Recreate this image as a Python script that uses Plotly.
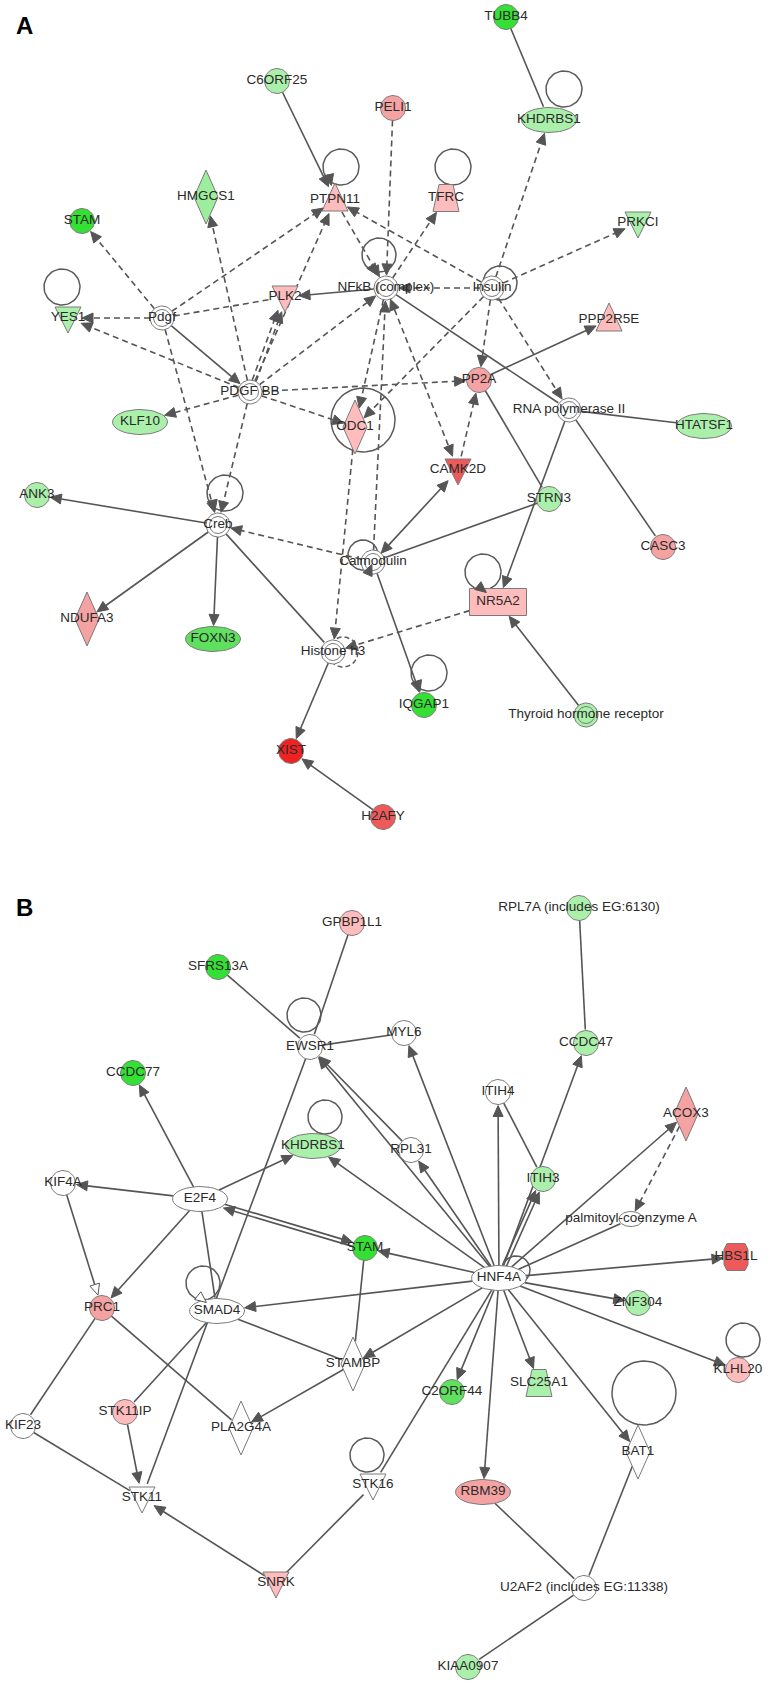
import math
from collections import Counter
import plotly.graph_objects as go

# ---------------- panel A: nodes ----------------
a_names = ["C6ORF25", "PELI1", "TUBB4", "KHDRBS1", "HMGCS1", "PTPN11", "TFRC", "STAM",
           "PRKCI", "YES1", "Pdgf", "PLK2", "NFkB (complex)", "Insulin", "PPP2R5E", "PDGF BB",
           "PP2A", "RNA polymerase II", "HTATSF1", "KLF10", "ODC1", "CAMK2D", "ANK3", "STRN3",
           "Creb", "CASC3", "Calmodulin", "NR5A2", "NDUFA3", "FOXN3", "Histone h3", "IQGAP1",
           "Thyroid hormone receptor", "XIST", "H2AFY"]
a_x = [277, 393, 506, 549, 206, 335, 446, 82,
       638, 68, 162, 285, 386, 492, 609, 250,
       479, 569, 704, 140, 355, 458, 37, 549,
       218, 663, 373, 498, 87, 213, 333, 424,
       586, 291, 383]
a_y = [81, 108, 17, 120, 197, 200, 198, 221,
       223, 318, 318, 297, 288, 288, 320, 392,
       380, 410, 426, 422, 427, 470, 495, 499,
       525, 547, 562, 602, 619, 639, 652, 705,
       715, 751, 817]
a_shape = ["circle", "circle", "circle", "ellipse", "diamond", "tri_up", "trap", "circle",
           "tri_down", "tri_down", "complex", "tri_down", "complex", "complex", "tri_up", "complex",
           "circle", "complex", "ellipse", "ellipse", "diamond", "tri_down", "circle", "circle",
           "complex", "circle", "complex", "rect", "diamond", "ellipse", "complex", "circle",
           "complex", "circle", "circle"]
a_colour = ["lg", "pk2", "g1", "lg", "hm", "pk1", "pk1", "g1",
            "lg", "lg", "w", "pk1", "w", "w", "pk1", "w",
            "pk2", "w", "lg", "lg", "pk1", "rd", "lg", "lg",
            "w", "pk2", "w", "pk1", "pk2", "g2", "w", "g1",
            "lg", "rd2", "rd"]

# source, target, dashed, head (">" target, "<>" both, "" none, "o" hollow)
a_edges = [
    ("Pdgf", "STAM", 1, ">"), ("Pdgf", "YES1", 1, ">"), ("Pdgf", "PTPN11", 1, ">"),
    ("Pdgf", "PLK2", 1, ""), ("Pdgf", "PDGF BB", 0, ">"), ("Pdgf", "Creb", 1, ">"),
    ("PDGF BB", "YES1", 1, ">"), ("PDGF BB", "HMGCS1", 1, ">"), ("PDGF BB", "PTPN11", 1, ">"),
    ("PDGF BB", "PLK2", 1, ">"), ("PDGF BB", "PLK2", 1, ">"), ("PDGF BB", "NFkB (complex)", 1, ">"),
    ("PDGF BB", "KLF10", 1, ">"), ("PDGF BB", "PP2A", 1, ">"), ("PDGF BB", "ODC1", 1, ">"),
    ("PDGF BB", "Creb", 1, ">"), ("PTPN11", "NFkB (complex)", 1, ">"),
    ("PELI1", "NFkB (complex)", 1, ">"), ("NFkB (complex)", "TFRC", 1, ">"),
    ("Insulin", "NFkB (complex)", 1, ">"), ("Insulin", "PTPN11", 1, ">"),
    ("Insulin", "KHDRBS1", 1, ">"), ("Insulin", "PRKCI", 1, ">"), ("Insulin", "PP2A", 1, ">"),
    ("Insulin", "RNA polymerase II", 1, ">"), ("Insulin", "ODC1", 1, ">"),
    ("C6ORF25", "PTPN11", 0, ">"), ("TUBB4", "KHDRBS1", 0, ""),
    ("NFkB (complex)", "PLK2", 0, ">"), ("NFkB (complex)", "ODC1", 1, ">"),
    ("Calmodulin", "NFkB (complex)", 1, ">"), ("NFkB (complex)", "CAMK2D", 1, "<>"),
    ("NFkB (complex)", "RNA polymerase II", 0, ""), ("CAMK2D", "PP2A", 1, ">"),
    ("PP2A", "PPP2R5E", 0, ">"), ("PP2A", "STRN3", 0, ""), ("Calmodulin", "CAMK2D", 0, "<>"),
    ("STRN3", "Calmodulin", 0, ""), ("RNA polymerase II", "HTATSF1", 0, ""),
    ("RNA polymerase II", "NR5A2", 0, ">"), ("RNA polymerase II", "CASC3", 0, ""),
    ("ODC1", "Histone h3", 1, ">"), ("NR5A2", "Histone h3", 1, ">"),
    ("Calmodulin", "Creb", 1, ">"), ("Calmodulin", "IQGAP1", 0, ">"),
    ("Thyroid hormone receptor", "NR5A2", 0, ">"), ("Creb", "ANK3", 0, ">"),
    ("Creb", "NDUFA3", 0, ">"), ("Creb", "FOXN3", 0, ">"), ("Creb", "Histone h3", 0, ""),
    ("Histone h3", "XIST", 0, ">"), ("H2AFY", "XIST", 0, ">"),
]

# self loops: node, dx, dy, radius, dashed, arrow (1 filled, 2 hollow)
a_loops = [
    ("PTPN11", 6, -33, 18, 0, 1), ("TFRC", 7, -31, 18, 0, 0), ("KHDRBS1", 15, -31, 18, 0, 0),
    ("YES1", -6, -31, 18, 0, 0), ("NFkB (complex)", -7, -33, 17, 0, 1), ("Insulin", 8, -5, 17, 0, 0),
    ("ODC1", 8, -7, 32, 0, 0), ("Creb", 7, -32, 18, 0, 1), ("Calmodulin", -10, -7, 15, 0, 1),
    ("NR5A2", -15, -30, 18, 0, 1), ("IQGAP1", 5, -32, 18, 0, 1), ("Histone h3", 10, 0, 15, 1, 0),
]

# ---------------- panel B: nodes ----------------
b_names = ["GPBP1L1", "RPL7A (includes EG:6130)", "SFRS13A", "EWSR1", "MYL6", "CCDC47", "CCDC77", "ITIH4",
           "ACOX3", "KHDRBS1", "RPL31", "ITIH3", "KIF4A", "E2F4", "palmitoyl-coenzyme A", "STAM",
           "HBS1L", "HNF4A", "ZNF304", "PRC1", "SMAD4", "STAMBP", "KLHL20", "SLC25A1",
           "C2ORF44", "STK11IP", "KIF23", "PLA2G4A", "BAT1", "STK16", "RBM39", "STK11",
           "SNRK", "U2AF2 (includes EG:11338)", "KIAA0907"]
b_x = [352, 579, 218, 310, 404, 586, 133, 498,
       686, 313, 411, 543, 63, 200, 631, 365,
       736, 499, 638, 102, 217, 353, 738, 539,
       452, 125, 23, 241, 638, 373, 483, 142,
       276, 584, 468]
b_y = [923, 908, 967, 1047, 1033, 1043, 1073, 1092,
       1114, 1146, 1150, 1179, 1183, 1199, 1219, 1248,
       1257, 1278, 1303, 1308, 1311, 1364, 1370, 1383,
       1392, 1412, 1426, 1428, 1452, 1485, 1492, 1498,
       1583, 1588, 1667]
b_shape = ["circle", "circle", "circle", "circle", "circle", "circle", "circle", "circle",
           "diamond", "ellipse", "circle", "circle", "circle", "ellipse", "small_ellipse", "circle",
           "hexagon", "ellipse", "circle", "circle", "ellipse", "diamond", "circle", "trap",
           "circle", "circle", "circle", "diamond", "diamond", "tri_down", "ellipse", "tri_down",
           "tri_down", "circle", "circle"]
b_colour = ["pk1", "lg", "g1", "w", "w", "lg", "g1", "w",
            "pk2", "lg", "w", "lg", "w", "w", "w", "g1",
            "rd", "w", "lg", "pk2", "w", "w", "pk1", "lg",
            "g2", "pk1", "w", "w", "w", "w", "pk2", "w",
            "pk1", "w", "lg"]

b_edges = [
    ("GPBP1L1", "EWSR1", 0, ""), ("SFRS13A", "EWSR1", 0, ""),
    ("RPL7A (includes EG:6130)", "CCDC47", 0, ""), ("EWSR1", "MYL6", 0, ""),
    ("HNF4A", "EWSR1", 0, ">"), ("RPL31", "EWSR1", 0, ">"), ("HNF4A", "MYL6", 0, ">"),
    ("HNF4A", "RPL31", 0, ">"), ("HNF4A", "ITIH4", 0, ">"), ("HNF4A", "ITIH3", 0, ">"),
    ("HNF4A", "ITIH3", 0, ">"), ("ITIH4", "ITIH3", 0, ""), ("HNF4A", "CCDC47", 0, ">"),
    ("HNF4A", "ACOX3", 0, ">"), ("ACOX3", "palmitoyl-coenzyme A", 1, ">"),
    ("HNF4A", "palmitoyl-coenzyme A", 0, ""), ("HNF4A", "HBS1L", 0, ">"),
    ("HNF4A", "ZNF304", 0, ">"), ("HNF4A", "KLHL20", 0, ">"), ("HNF4A", "BAT1", 0, ">"),
    ("HNF4A", "SLC25A1", 0, ">"), ("HNF4A", "RBM39", 0, ">"), ("HNF4A", "C2ORF44", 0, ">"),
    ("HNF4A", "STK16", 0, ""), ("HNF4A", "STAMBP", 0, ">"), ("HNF4A", "SMAD4", 0, ">"),
    ("HNF4A", "STAM", 0, ">"), ("HNF4A", "KHDRBS1", 0, ">"),
    ("E2F4", "STAM", 0, ">"), ("STAM", "E2F4", 0, ">"),
    ("E2F4", "KHDRBS1", 0, ">"), ("E2F4", "CCDC77", 0, ">"), ("E2F4", "KIF4A", 0, ">"),
    ("E2F4", "PRC1", 0, ">"), ("E2F4", "SMAD4", 0, ""), ("EWSR1", "STK11", 0, ""),
    ("KIF4A", "PRC1", 0, "o"), ("SMAD4", "STAMBP", 0, ""), ("STAMBP", "PLA2G4A", 0, ">"),
    ("PRC1", "PLA2G4A", 0, ""), ("SMAD4", "STK11IP", 0, ""), ("STK11IP", "STK11", 0, ">"),
    ("PRC1", "KIF23", 0, ""), ("KIF23", "STK11", 0, ""), ("SNRK", "STK11", 0, ">"),
    ("STK16", "SNRK", 0, ""), ("STAM", "STAMBP", 0, ""),
    ("RBM39", "U2AF2 (includes EG:11338)", 0, ""), ("BAT1", "U2AF2 (includes EG:11338)", 0, ""),
    ("U2AF2 (includes EG:11338)", "KIAA0907", 0, ""),
]

b_loops = [
    ("EWSR1", -6, -32, 17, 0, 0), ("KHDRBS1", 12, -29, 17, 0, 0), ("SMAD4", -14, -28, 17, 0, 2),
    ("HNF4A", 17, -8, 14, 0, 0), ("STK16", -6, -30, 17, 0, 0), ("KLHL20", 5, -30, 17, 0, 0),
    ("BAT1", 6, -59, 32, 0, 0),
]

panel_letters = ["A", "B"]
panel_letter_x = [24, 24]
panel_letter_y = [25, 907]

# ---------------- styles ----------------
PALETTE = {"w": "#ffffff", "g1": "#33e033", "g2": "#5fe05f", "lg": "#aaf0aa", "hm": "#9cee9c",
           "pk1": "#ffbcbc", "pk2": "#f5a2a2", "rd": "#ee5a5a", "rd2": "#ee2222"}
SIZE = {"circle": (12.5, 12.5), "complex": (12, 12), "ellipse": (27.5, 12.5),
        "small_ellipse": (12, 7.5), "diamond": (12, 27), "tri_up": (13, 14),
        "tri_down": (13, 14), "trap": (13, 13.5), "rect": (28.5, 13.5), "hexagon": (12, 13.5)}
EDGE = "#555555"
OUTLINE = "#7a7a7a"
AL, AW = 11, 5
FONT = "Liberation Sans, Arial, sans-serif"


def boundary(shape, ux, uy):
    hw, hh = SIZE[shape]
    if shape in ("circle", "complex"):
        return hw
    if shape in ("ellipse", "small_ellipse", "tri_up", "tri_down"):
        return 1 / math.sqrt((ux / hw) ** 2 + (uy / hh) ** 2)
    if shape == "diamond":
        return 1 / (abs(ux) / hw + abs(uy) / hh)
    bx = hw / abs(ux) if abs(ux) > 1e-9 else 1e9
    by = hh / abs(uy) if abs(uy) > 1e-9 else 1e9
    return min(bx, by)


def outline(shape, x, y):
    hw, hh = SIZE[shape]
    if shape in ("circle", "complex", "ellipse", "small_ellipse"):
        t = [2 * math.pi * i / 48 for i in range(49)]
        return [x + hw * math.cos(a) for a in t], [y + hh * math.sin(a) for a in t]
    if shape == "diamond":
        pts = [(0, -hh), (hw, 0), (0, hh), (-hw, 0)]
    elif shape == "tri_up":
        pts = [(0, -17), (hw, 11), (-hw, 11)]
    elif shape == "tri_down":
        pts = [(-hw, -11), (hw, -11), (0, 15)]
    elif shape == "trap":
        pts = [(-7, -hh), (7, -hh), (hw, hh), (-hw, hh)]
    elif shape == "rect":
        pts = [(-hw, -hh), (hw, -hh), (hw, hh), (-hw, hh)]
    else:
        pts = [(-hw + 3, -hh), (hw - 3, -hh), (hw, -hh + 6), (hw, hh - 6),
               (hw - 3, hh), (-hw + 3, hh), (-hw, hh - 6), (-hw, -hh + 6)]
    pts.append(pts[0])
    return [x + p[0] for p in pts], [y + p[1] for p in pts]


def circle_pts(cx, cy, r):
    t = [2 * math.pi * i / 60 for i in range(61)]
    return [cx + r * math.cos(a) for a in t], [cy + r * math.sin(a) for a in t]


def head_pts(tx, ty, ux, uy):
    bx, by = tx - ux * AL, ty - uy * AL
    px, py = -uy, ux
    return [tx, bx + px * AW, bx - px * AW, tx], [ty, by + py * AW, by - py * AW, ty]


solid = ([], [])
dashed = ([], [])
heads = ([], [])
hollow = ([], [])
loops_solid = ([], [])
loops_dash = ([], [])
node_fill = {}
inner = ([], [])
labels = ([], [], [])


def add(buf, xs, ys):
    buf[0].extend(xs + [None])
    buf[1].extend(ys + [None])


def build(names, xs, ys, shapes, colours, edges, loops):
    pos = {n: (x, y, s) for n, x, y, s in zip(names, xs, ys, shapes)}
    total = Counter(frozenset((e[0], e[1])) for e in edges)
    seen = Counter()
    for src, dst, dash, head in edges:
        x1, y1, s1 = pos[src]
        x2, y2, s2 = pos[dst]
        d = math.hypot(x2 - x1, y2 - y1)
        ux, uy = (x2 - x1) / d, (y2 - y1) / d
        key = frozenset((src, dst))
        n, i = total[key], seen[key]
        seen[key] += 1
        off = (i - (n - 1) / 2) * 4
        px, py = -uy, ux
        if src > dst:
            px, py = -px, -py
        b1 = boundary(s1, ux, uy)
        b2 = boundary(s2, ux, uy)
        sx, sy = x1 + ux * b1 + px * off, y1 + uy * b1 + py * off
        ex, ey = x2 - ux * (b2 + 1) + px * off, y2 - uy * (b2 + 1) + py * off
        lx0, ly0, lx1, ly1 = sx, sy, ex, ey
        if head in (">", "<>", "o"):
            hx, hy = head_pts(ex, ey, ux, uy)
            add(hollow if head == "o" else heads, hx, hy)
            lx1, ly1 = ex - ux * AL, ey - uy * AL
        if head == "<>":
            hx, hy = head_pts(sx, sy, -ux, -uy)
            add(heads, hx, hy)
            lx0, ly0 = sx + ux * AL, sy + uy * AL
        add(dashed if dash else solid, [lx0, lx1], [ly0, ly1])

    for node, dx, dy, r, dash, arrow in loops:
        x, y, s = pos[node]
        cx, cy = x + dx, y + dy
        px_, py_ = circle_pts(cx, cy, r)
        add(loops_dash if dash else loops_solid, px_, py_)
        if arrow:
            # small head where the loop comes back into the node
            ang = math.atan2(y - cy, x - cx) + 0.45
            tx, ty = cx + r * math.cos(ang), cy + r * math.sin(ang)
            vx, vy = x - tx, y - ty
            vd = math.hypot(vx, vy)
            hx, hy = head_pts(tx + vx / vd * 4, ty + vy / vd * 4, vx / vd, vy / vd)
            add(hollow if arrow == 2 else heads, hx, hy)

    for n, x, y, s, c in zip(names, xs, ys, shapes, colours):
        ox, oy = outline(s, x, y)
        node_fill.setdefault(c, ([], []))
        add(node_fill[c], ox, oy)
        if s == "complex":
            ix, iy = circle_pts(x, y, 8.5)
            add(inner, ix, iy)
        labels[0].append(x)
        labels[1].append(y)
        labels[2].append(n)


build(a_names, a_x, a_y, a_shape, a_colour, a_edges, a_loops)
build(b_names, b_x, b_y, b_shape, b_colour, b_edges, b_loops)

fig = go.Figure()
fig.add_trace(go.Scatter(x=solid[0], y=solid[1], mode="lines",
                         line=dict(color=EDGE, width=1.6), hoverinfo="skip"))
fig.add_trace(go.Scatter(x=dashed[0], y=dashed[1], mode="lines",
                         line=dict(color=EDGE, width=1.6, dash="6px,4px"), hoverinfo="skip"))
fig.add_trace(go.Scatter(x=loops_solid[0], y=loops_solid[1], mode="lines",
                         line=dict(color="#5a5a5a", width=1.5), hoverinfo="skip"))
fig.add_trace(go.Scatter(x=loops_dash[0], y=loops_dash[1], mode="lines",
                         line=dict(color="#5a5a5a", width=1.5, dash="5px,3px"), hoverinfo="skip"))
for c, (xs, ys) in node_fill.items():
    fig.add_trace(go.Scatter(x=xs, y=ys, mode="lines", fill="toself", fillcolor=PALETTE[c],
                             line=dict(color=OUTLINE, width=1), hoverinfo="skip"))
fig.add_trace(go.Scatter(x=inner[0], y=inner[1], mode="lines",
                         line=dict(color=OUTLINE, width=1), hoverinfo="skip"))
fig.add_trace(go.Scatter(x=heads[0], y=heads[1], mode="lines", fill="toself", fillcolor=EDGE,
                         line=dict(color=EDGE, width=1), hoverinfo="skip"))
fig.add_trace(go.Scatter(x=hollow[0], y=hollow[1], mode="lines", fill="toself", fillcolor="#ffffff",
                         line=dict(color=EDGE, width=1), hoverinfo="skip"))
fig.add_trace(go.Scatter(x=labels[0], y=labels[1], mode="text", text=labels[2],
                         textposition="middle center",
                         textfont=dict(family=FONT, size=13.5, color="#2a2a2a"), hoverinfo="skip"))

for t, x, y in zip(panel_letters, panel_letter_x, panel_letter_y):
    fig.add_annotation(x=x, y=y, text="<b>%s</b>" % t, showarrow=False,
                       font=dict(family=FONT, size=24, color="#000000"))

fig.update_layout(width=772, height=1690, margin=dict(l=0, r=0, t=0, b=0),
                  paper_bgcolor="white", plot_bgcolor="white", showlegend=False,
                  xaxis=dict(range=[0, 772], visible=False, fixedrange=True),
                  yaxis=dict(range=[1690, 0], visible=False, fixedrange=True))
fig.write_html("out.html", config={"displayModeBar": False},
               post_script="document.body.style.margin='0px';document.body.style.overflow='hidden';")
